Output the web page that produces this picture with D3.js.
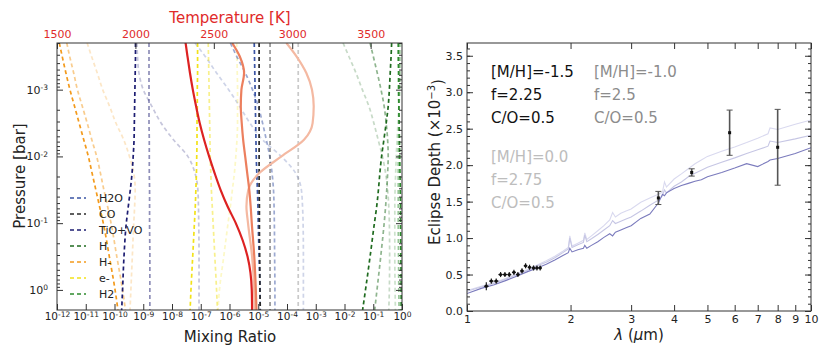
<!DOCTYPE html>
<html>
<head>
<meta charset="utf-8">
<script src="https://cdn.jsdelivr.net/npm/d3@7"></script>
<style>
body{margin:0;background:#fff;overflow:hidden}
text{font-family:"DejaVu Sans",sans-serif}
</style>
</head>
<body>
<script>
// ---------- left panel data ----------
// shared pressure grid, log10(P / bar)
let logP = [-3.7,-3.5,-3.25,-3,-2.75,-2.5,-2.25,-2,-1.75,-1.5,-1.25,-1,-0.5,0,0.3];

// temperature profiles [K] for the three models
let tempA = [2320,2332,2348,2366,2387,2410,2438,2470,2505,2543,2588,2640,2715,2742,2744];
let tempB = [2617,2665,2693,2676,2672,2678,2687,2700,2713,2726,2735,2742,2758,2768,2772];
let tempC = [2963,3027,3090,3126,3137,3130,3075,2931,2790,2720,2708,2718,2744,2757,2760];

// log10 mixing ratios, model A / B / C
let h2oA = [-5.14,-5.13,-5.12,-5.11,-5.1,-5.09,-5.08,-5.07,-5.05,-5.03,-5.01,-5.0,-4.97,-4.94,-4.93];
let h2oB = [-5.97,-5.75,-5.45,-5.2,-5.0,-4.85,-4.72,-4.6,-4.52,-4.47,-4.45,-4.44,-4.43,-4.42,-4.42];
let h2oC = [-7.2,-6.85,-6.45,-6.03,-5.65,-5.29,-4.85,-4.2,-3.7,-3.5,-3.46,-3.44,-3.43,-3.43,-3.43];
let coA = [-4.97,-4.97,-4.97,-4.97,-4.97,-4.97,-4.97,-4.97,-4.97,-4.97,-4.96,-4.96,-4.95,-4.94,-4.93];
let coB = [-4.59,-4.59,-4.59,-4.59,-4.59,-4.59,-4.59,-4.59,-4.59,-4.59,-4.59,-4.59,-4.59,-4.59,-4.59];
let coC = [-3.61,-3.61,-3.61,-3.61,-3.61,-3.61,-3.61,-3.61,-3.61,-3.61,-3.61,-3.61,-3.61,-3.61,-3.61];
let tioA = [-9.27,-9.27,-9.28,-9.29,-9.3,-9.31,-9.32,-9.35,-9.39,-9.45,-9.52,-9.59,-9.67,-9.72,-9.75];
let tioB = [-8.8,-8.8,-8.8,-8.8,-8.8,-8.8,-8.79,-8.79,-8.79,-8.78,-8.78,-8.78,-8.77,-8.77,-8.77];
let tioC = [-9.22,-9.2,-9.15,-9.0,-8.7,-8.38,-7.95,-7.45,-7.2,-7.1,-7.08,-7.07,-7.06,-7.06,-7.06];
let hA = [-0.36,-0.38,-0.41,-0.44,-0.48,-0.55,-0.63,-0.71,-0.77,-0.82,-0.88,-0.96,-1.11,-1.27,-1.37];
let hB = [-1.11,-1.0,-0.86,-0.73,-0.62,-0.55,-0.5,-0.48,-0.5,-0.53,-0.57,-0.62,-0.74,-0.87,-0.95];
let hC = [-2.05,-1.85,-1.6,-1.38,-1.15,-0.98,-0.83,-0.68,-0.57,-0.5,-0.46,-0.44,-0.43,-0.44,-0.46];
let hmA = [-11.92,-11.82,-11.69,-11.55,-11.39,-11.23,-11.07,-10.91,-10.78,-10.65,-10.52,-10.39,-10.18,-9.98,-9.88];
let hmB = [-11.66,-11.56,-11.42,-11.29,-11.12,-10.95,-10.79,-10.62,-10.49,-10.37,-10.24,-10.12,-9.92,-9.72,-9.62];
let hmC = [-10.95,-10.8,-10.6,-10.41,-10.17,-9.95,-9.68,-9.48,-9.33,-9.28,-9.3,-9.33,-9.38,-9.43,-9.46];
let elA = [-7.11,-7.11,-7.11,-7.12,-7.12,-7.13,-7.13,-7.14,-7.15,-7.17,-7.19,-7.22,-7.28,-7.34,-7.37];
let elB = [-6.74,-6.73,-6.72,-6.71,-6.7,-6.69,-6.68,-6.67,-6.65,-6.63,-6.6,-6.57,-6.51,-6.45,-6.42];
let elC = [-5.75,-5.74,-5.73,-5.72,-5.72,-5.72,-5.74,-5.78,-5.83,-5.9,-5.97,-6.05,-6.2,-6.35,-6.4];
let h2A = [-0.13,-0.13,-0.12,-0.12,-0.11,-0.1,-0.09,-0.08,-0.07,-0.06,-0.05,-0.05,-0.04,-0.03,-0.03];
let h2B = [-0.09,-0.09,-0.09,-0.09,-0.1,-0.11,-0.12,-0.13,-0.13,-0.13,-0.13,-0.13,-0.12,-0.11,-0.1];
let h2C = [-0.04,-0.05,-0.06,-0.08,-0.11,-0.14,-0.17,-0.2,-0.22,-0.24,-0.25,-0.25,-0.25,-0.24,-0.23];

let tempTicks = [1500,2000,2500,3000,3500];

// ---------- right panel data ----------
let wl = [1.0,1.1,1.2,1.3,1.4,1.5,1.6,1.7,1.8,1.9,1.97,1.99,2.02,2.1,2.18,2.2,2.23,2.3,2.4,2.5,2.6,2.65,2.7,2.8,2.9,3.0,3.2,3.4,3.6,3.7,3.75,3.8,4.0,4.2,4.4,4.6,4.8,5.0,5.5,6.0,6.5,7.0,7.5,7.6,8.0,9.0,10.0];
let depthA = [0.24,0.31,0.36,0.42,0.48,0.54,0.59,0.64,0.70,0.76,0.80,0.86,0.81,0.84,0.86,0.90,0.86,0.90,0.95,1.01,1.06,1.03,1.08,1.11,1.14,1.17,1.27,1.33,1.48,1.60,1.58,1.62,1.68,1.72,1.75,1.78,1.80,1.84,1.90,1.96,2.02,1.98,2.05,2.07,2.09,2.16,2.24];
let depthB = [0.27,0.33,0.38,0.44,0.50,0.56,0.62,0.67,0.73,0.80,0.85,1.00,0.87,0.91,0.94,1.04,0.95,0.99,1.05,1.11,1.17,1.24,1.20,1.23,1.26,1.29,1.37,1.45,1.52,1.58,1.66,1.62,1.71,1.77,1.84,1.89,1.93,1.97,2.04,2.10,2.16,2.21,2.26,2.33,2.31,2.36,2.41];
let depthC = [0.28,0.34,0.39,0.45,0.51,0.57,0.63,0.69,0.75,0.82,0.87,1.03,0.89,0.93,0.97,1.07,0.98,1.03,1.10,1.17,1.25,1.35,1.29,1.34,1.37,1.40,1.49,1.55,1.60,1.63,1.77,1.70,1.81,1.88,1.95,2.02,2.07,2.12,2.19,2.25,2.31,2.37,2.43,2.51,2.49,2.56,2.62];

let obsWl = [1.138,1.177,1.216,1.252,1.289,1.327,1.369,1.406,1.445,1.480,1.520,1.561,1.597,1.632,3.6,4.5,5.8,8.0];
let obsDepth = [0.34,0.41,0.41,0.50,0.50,0.50,0.53,0.50,0.55,0.62,0.60,0.59,0.59,0.59,1.55,1.90,2.445,2.245];
let obsErr = [0.055,0.035,0.035,0.035,0.035,0.035,0.035,0.035,0.035,0.035,0.035,0.035,0.035,0.035,0.09,0.05,0.31,0.52];
let obsHalfWidth = [0.018,0.018,0.018,0.018,0.018,0.018,0.018,0.018,0.018,0.018,0.018,0.018,0.018,0.018,0,0,0,0];

let wlTicks = [1,2,3,4,5,6,7,8,9,10];
let depthTicks = [0,0.5,1,1.5,2,2.5,3,3.5];

// ---------- drawing ----------
let svg = d3.select("body").append("svg")
    .attr("width",830).attr("height",352);

let species = [
  {name:"H2O", color:"#3a54a4", runs:[h2oA,h2oB,h2oC]},
  {name:"CO", color:"#2a2a2a", runs:[coA,coB,coC]},
  {name:"TiO+VO", color:"#1d1d72", runs:[tioA,tioB,tioC]},
  {name:"H", color:"#1f6b1f", runs:[hA,hB,hC]},
  {name:"H-", color:"#f39a1c", runs:[hmA,hmB,hmC]},
  {name:"e-", color:"#f2e21a", runs:[elA,elB,elC]},
  {name:"H2", color:"#2e8b2e", runs:[h2A,h2B,h2C]}
];
let alphas = [1,0.5,0.25];
let tempColors = ["#dd2222","#ec7f5e","#f4b9a2"];

let L = {x0:57,x1:402,y0:43,y1:310};
let xMix = d3.scaleLog().domain([1e-12,1]).range([L.x0,L.x1]);
let xT = d3.scaleLinear().domain([1500,3700]).range([L.x0,L.x1]);
let yP = d3.scaleLog().domain([Math.pow(10,-3.699),Math.pow(10,0.301)]).range([L.y0,L.y1]);

svg.append("clipPath").attr("id","clipL").append("rect")
    .attr("x",L.x0).attr("y",L.y0).attr("width",L.x1-L.x0).attr("height",L.y1-L.y0);

let gL = svg.append("g").attr("clip-path","url(#clipL)");

let mixLine = d3.line()
    .x(d=>xMix(Math.pow(10,d[1])))
    .y(d=>yP(Math.pow(10,d[0])))
    .curve(d3.curveMonotoneY);

// lightest model first so the dark ones sit on top
[2,1,0].forEach(function(m){
  species.forEach(function(s){
    gL.append("path")
      .datum(logP.map((p,i)=>[p,s.runs[m][i]]))
      .attr("d",mixLine)
      .attr("fill","none")
      .attr("stroke",s.color)
      .attr("stroke-opacity",alphas[m])
      .attr("stroke-width",1.7)
      .attr("stroke-dasharray","4,3");
  });
});

let tLine = d3.line()
    .x(d=>xT(d[1]))
    .y(d=>yP(Math.pow(10,d[0])))
    .curve(d3.curveMonotoneY);

[tempC,tempB,tempA].forEach(function(t,k){
  gL.append("path")
    .datum(logP.map((p,i)=>[p,t[i]]))
    .attr("d",tLine)
    .attr("fill","none")
    .attr("stroke",tempColors[2-k])
    .attr("stroke-width",2.2);
});

function supLabel(sel){
  sel.each(function(d){
    let e = Math.round(Math.log10(d));
    let t = d3.select(this);
    t.text(null);
    t.append("tspan").text("10");
    t.append("tspan").attr("dy","-0.5em").attr("font-size","7.5px")
      .text(String(e));
  });
}

function styleAxis(g){
  g.attr("font-family","DejaVu Sans").attr("font-size",11);
  g.select(".domain").remove();
  g.selectAll("line").attr("stroke","#333");
  g.selectAll("text").attr("fill","#222");
}

let decadesMix = d3.range(-12,1).map(e=>Math.pow(10,e));
let decadesP = [1e-3,1e-2,1e-1,1];
let minorP = [];
[-4,-3,-2,-1,0].forEach(function(e){
  for(let k=2;k<10;k++){
    let v=k*Math.pow(10,e);
    if(v>Math.pow(10,-3.699) && v<Math.pow(10,0.301)) minorP.push(v);
  }
});

// bottom mixing ratio axis
let gxb = svg.append("g").attr("transform",`translate(0,${L.y1})`)
  .call(d3.axisBottom(xMix).tickValues(decadesMix).tickSizeInner(-6).tickSizeOuter(0).tickPadding(3));
styleAxis(gxb);
gxb.attr("font-size",10.5);
gxb.selectAll("text").call(supLabel);

// top temperature axis
let gxt = svg.append("g").attr("transform",`translate(0,${L.y0})`)
  .call(d3.axisTop(xT).tickValues(tempTicks).tickSizeInner(-6).tickSizeOuter(0).tickPadding(5).tickFormat(d3.format("d")));
styleAxis(gxt);
gxt.selectAll("text").attr("fill","#e02a2a");

// pressure axes left and right
let gyl = svg.append("g").attr("transform",`translate(${L.x0},0)`)
  .call(d3.axisLeft(yP).tickValues(decadesP).tickSizeInner(-6).tickSizeOuter(0).tickPadding(9));
styleAxis(gyl);
gyl.selectAll("text").call(supLabel);
let gylm = svg.append("g").attr("transform",`translate(${L.x0},0)`)
  .call(d3.axisLeft(yP).tickValues(minorP).tickSizeInner(-3).tickSizeOuter(0).tickFormat(""));
styleAxis(gylm);
let gyr = svg.append("g").attr("transform",`translate(${L.x1},0)`)
  .call(d3.axisRight(yP).tickValues(decadesP).tickSizeInner(-6).tickSizeOuter(0).tickFormat(""));
styleAxis(gyr);
let gyrm = svg.append("g").attr("transform",`translate(${L.x1},0)`)
  .call(d3.axisRight(yP).tickValues(minorP).tickSizeInner(-3).tickSizeOuter(0).tickFormat(""));
styleAxis(gyrm);

svg.append("rect").attr("x",L.x0).attr("y",L.y0)
  .attr("width",L.x1-L.x0).attr("height",L.y1-L.y0)
  .attr("fill","none").attr("stroke","#333").attr("stroke-width",1);

// legend
let leg = svg.append("g");
species.forEach(function(s,i){
  let y = 198+i*16;
  leg.append("line").attr("x1",70).attr("x2",86).attr("y1",y).attr("y2",y)
    .attr("stroke",s.color).attr("stroke-width",1.7).attr("stroke-dasharray","4,3");
  leg.append("text").attr("x",99).attr("y",y+4).attr("font-size",11).attr("fill","#222").text(s.name);
});

svg.append("text").attr("x",230).attr("y",23).attr("text-anchor","middle")
  .attr("font-size",15).attr("fill","#e02a2a").text("Temperature [K]");
svg.append("text").attr("x",230).attr("y",342).attr("text-anchor","middle")
  .attr("font-size",15).attr("fill","#222").text("Mixing Ratio");
svg.append("text").attr("transform","translate(25,176) rotate(-90)").attr("text-anchor","middle")
  .attr("font-size",15).attr("fill","#222").text("Pressure [bar]");

// ---------- right panel ----------
let R = {x0:467,x1:811,y0:43,y1:311};
let xW = d3.scaleLog().domain([1,10]).range([R.x0,R.x1]);
let yD = d3.scaleLinear().domain([0,3.675]).range([R.y1,R.y0]);

svg.append("clipPath").attr("id","clipR").append("rect")
    .attr("x",R.x0).attr("y",R.y0).attr("width",R.x1-R.x0).attr("height",R.y1-R.y0);
let gR = svg.append("g").attr("clip-path","url(#clipR)");

let specLine = d3.line().x(d=>xW(d[0])).y(d=>yD(d[1]));
let specColors = ["#7b7bbd","#c6c6e4","#d9d9ef"];
[depthC,depthB,depthA].forEach(function(s,k){
  gR.append("path")
    .datum(wl.map((w,i)=>[w,s[i]]))
    .attr("d",specLine)
    .attr("fill","none")
    .attr("stroke",specColors[2-k])
    .attr("stroke-width",1.1);
});

let obs = obsWl.map((w,i)=>({w:w,d:obsDepth[i],e:obsErr[i],hw:obsHalfWidth[i]}));
let spitzer = obs.filter(o=>o.hw===0);
let wfc3 = obs.filter(o=>o.hw>0);

// Spitzer error bars with caps
gR.selectAll("line.sp").data(spitzer).enter().append("line")
  .attr("x1",d=>xW(d.w)).attr("x2",d=>xW(d.w))
  .attr("y1",d=>yD(d.d-d.e)).attr("y2",d=>yD(d.d+d.e))
  .attr("stroke","#555").attr("stroke-width",1.6);
gR.selectAll("line.capTop").data(spitzer).enter().append("line")
  .attr("x1",d=>xW(d.w)-3).attr("x2",d=>xW(d.w)+3)
  .attr("y1",d=>yD(d.d+d.e)).attr("y2",d=>yD(d.d+d.e))
  .attr("stroke","#555").attr("stroke-width",1);
gR.selectAll("line.capBot").data(spitzer).enter().append("line")
  .attr("x1",d=>xW(d.w)-3).attr("x2",d=>xW(d.w)+3)
  .attr("y1",d=>yD(d.d-d.e)).attr("y2",d=>yD(d.d-d.e))
  .attr("stroke","#555").attr("stroke-width",1);
gR.selectAll("rect.sp").data(spitzer).enter().append("rect")
  .attr("x",d=>xW(d.w)-1.5).attr("y",d=>yD(d.d)-1.5)
  .attr("width",3).attr("height",3).attr("fill","#111");

// WFC3 points with x and y bars
gR.selectAll("line.wv").data(wfc3).enter().append("line")
  .attr("x1",d=>xW(d.w)).attr("x2",d=>xW(d.w))
  .attr("y1",d=>yD(d.d-d.e)).attr("y2",d=>yD(d.d+d.e))
  .attr("stroke","#222").attr("stroke-width",1.2);
gR.selectAll("line.wh").data(wfc3).enter().append("line")
  .attr("x1",d=>xW(d.w-d.hw)).attr("x2",d=>xW(d.w+d.hw))
  .attr("y1",d=>yD(d.d)).attr("y2",d=>yD(d.d))
  .attr("stroke","#222").attr("stroke-width",1.2);
gR.selectAll("circle.wf").data(wfc3).enter().append("circle")
  .attr("cx",d=>xW(d.w)).attr("cy",d=>yD(d.d)).attr("r",1.6).attr("fill","#111");

let minorD = d3.range(0,3.65,0.1);

let gxrb = svg.append("g").attr("transform",`translate(0,${R.y1})`)
  .call(d3.axisBottom(xW).tickValues(wlTicks).tickSizeInner(-6).tickSizeOuter(0).tickPadding(4).tickFormat(d3.format("d")));
styleAxis(gxrb);
let gxrt = svg.append("g").attr("transform",`translate(0,${R.y0})`)
  .call(d3.axisTop(xW).tickValues(wlTicks).tickSizeInner(-6).tickSizeOuter(0).tickFormat(""));
styleAxis(gxrt);
let gyrl = svg.append("g").attr("transform",`translate(${R.x0},0)`)
  .call(d3.axisLeft(yD).tickValues(depthTicks).tickSizeInner(-6).tickSizeOuter(0).tickPadding(4).tickFormat(d3.format(".1f")));
styleAxis(gyrl);
let gyrlm = svg.append("g").attr("transform",`translate(${R.x0},0)`)
  .call(d3.axisLeft(yD).tickValues(minorD).tickSizeInner(-3).tickSizeOuter(0).tickFormat(""));
styleAxis(gyrlm);
let gyrr = svg.append("g").attr("transform",`translate(${R.x1},0)`)
  .call(d3.axisRight(yD).tickValues(depthTicks).tickSizeInner(-6).tickSizeOuter(0).tickFormat(""));
styleAxis(gyrr);
let gyrrm = svg.append("g").attr("transform",`translate(${R.x1},0)`)
  .call(d3.axisRight(yD).tickValues(minorD).tickSizeInner(-3).tickSizeOuter(0).tickFormat(""));
styleAxis(gyrrm);

svg.append("rect").attr("x",R.x0).attr("y",R.y0)
  .attr("width",R.x1-R.x0).attr("height",R.y1-R.y0)
  .attr("fill","none").attr("stroke","#333").attr("stroke-width",1);

// model annotations
let notes = [
  {x:491, y:77, lines:["[M/H]=-1.5","f=2.25","C/O=0.5"], color:"#111"},
  {x:594, y:77, lines:["[M/H]=-1.0","f=2.5","C/O=0.5"], color:"#8c8c8c"},
  {x:491, y:162, lines:["[M/H]=0.0","f=2.75","C/O=0.5"], color:"#bdbdbd"}
];
notes.forEach(function(n){
  n.lines.forEach(function(t,i){
    svg.append("text").attr("x",n.x).attr("y",n.y+i*23)
      .attr("font-size",15).attr("fill",n.color).text(t);
  });
});

let yl = svg.append("text").attr("transform","translate(440,162) rotate(-90)")
  .attr("text-anchor","middle").attr("font-size",15).attr("fill","#222");
yl.append("tspan").text("Eclipse Depth (\u00d710");
yl.append("tspan").attr("dy","-0.5em").attr("font-size","10px").text("\u22123");
yl.append("tspan").attr("dy","0.5em").text(")");

let xl = svg.append("text").attr("x",639).attr("y",340)
  .attr("text-anchor","middle").attr("font-size",15).attr("fill","#222");
xl.append("tspan").attr("font-style","italic").text("\u03bb");
xl.append("tspan").text(" (");
xl.append("tspan").attr("font-style","italic").text("\u03bc");
xl.append("tspan").text("m)");
</script>
</body>
</html>
